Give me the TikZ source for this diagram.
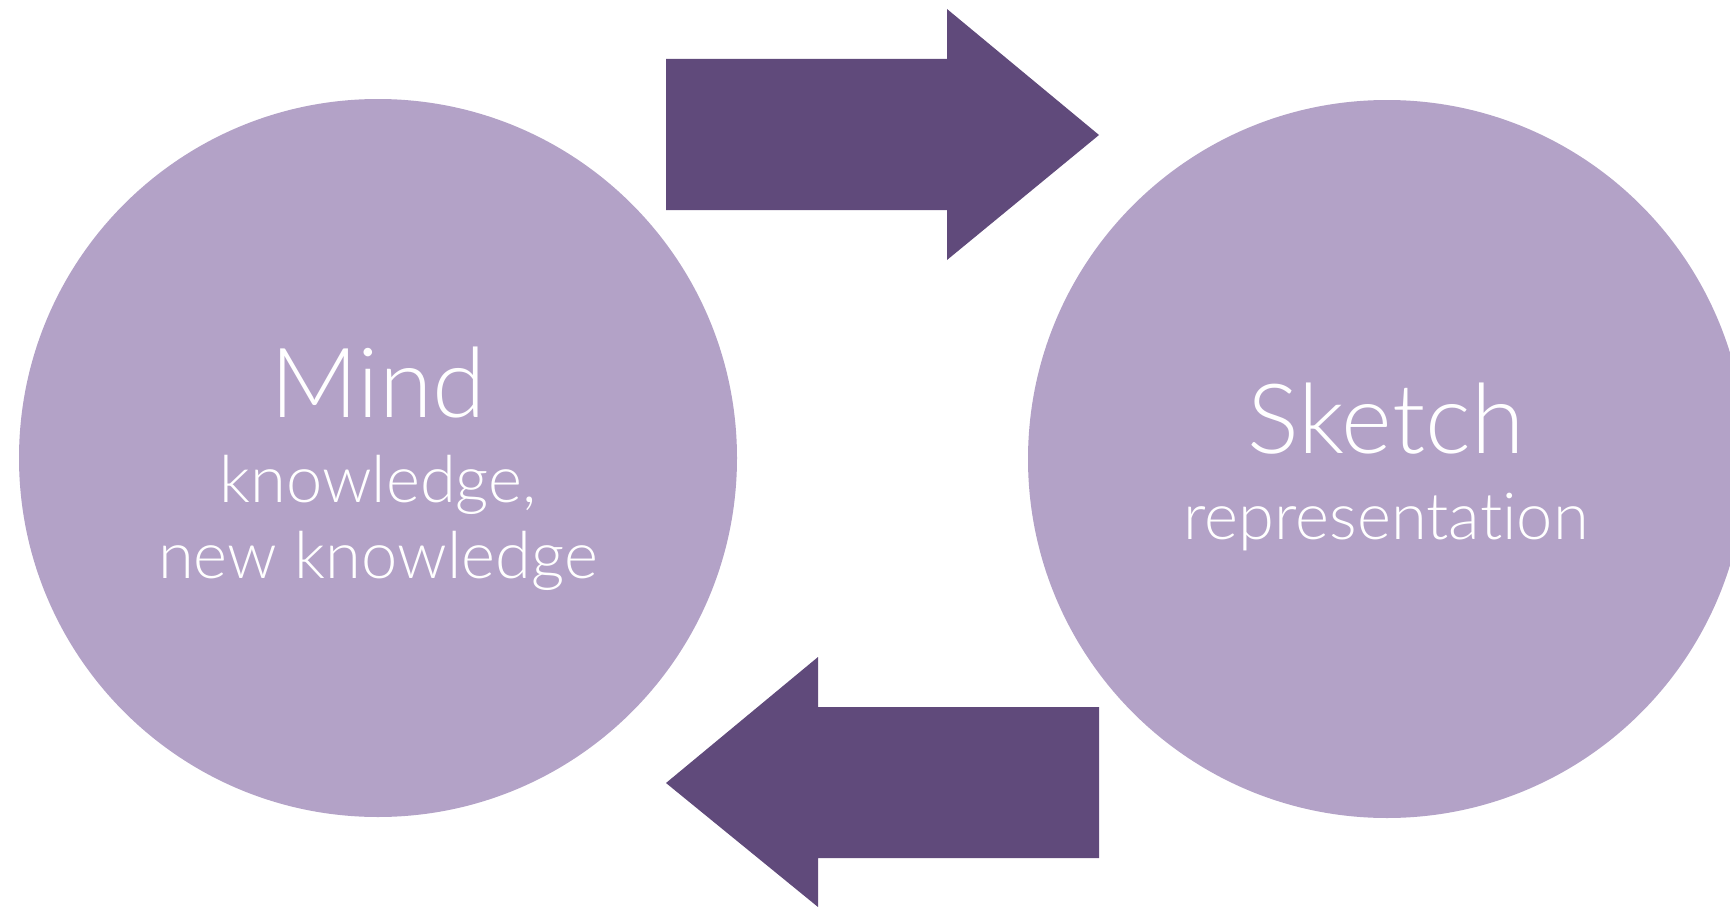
\documentclass[tikz,border=0pt]{standalone}
\usepackage{fontspec}
\setmainfont{Lato}[UprightFont={* Light}, Ligatures={NoCommon}]
\usepackage{tikz}
\definecolor{bubblefill}{HTML}{B3A2C7}
\definecolor{flowfill}{HTML}{604A7B}

\begin{document}
\begin{tikzpicture}[x=1pt, y=-1pt]
\tikzstyle{bubble} = [circle, fill=bubblefill, inner sep=0pt, minimum size=718pt]
\tikzstyle{flow} = [fill=flowfill]
\tikzstyle{title} = [anchor=base, text=white, inner sep=0pt, font=\fontsize{97}{97}\selectfont]
\tikzstyle{subtitle} = [anchor=base, text=white, inner sep=0pt, font=\fontsize{65}{65}\selectfont]

\useasboundingbox (0,0) rectangle (1730,907);

\node[bubble] (mind) at (378,458) {};
\node[bubble] (sketch) at (1387,459) {};

\node[title] (mindname) at (378,417) {Mind};
\node[subtitle] (mindline1) at (378,502) {knowledge,};
\node[subtitle] (mindline2) at (378,578) {new knowledge};

\node[title] (sketchname) at (1386,453) {Sketch};
\node[subtitle] (sketchline) at (1386,539) {representation};

% mind to sketch
\fill[flow] (666,59) -- (947,59) -- (947,9) -- (1099,135) -- (947,260) -- (947,210) -- (666,210) -- cycle;
% sketch to mind
\fill[flow] (1099,707) -- (818,707) -- (818,657) -- (666,783) -- (818,907) -- (818,858) -- (1099,858) -- cycle;
\end{tikzpicture}
\end{document}
